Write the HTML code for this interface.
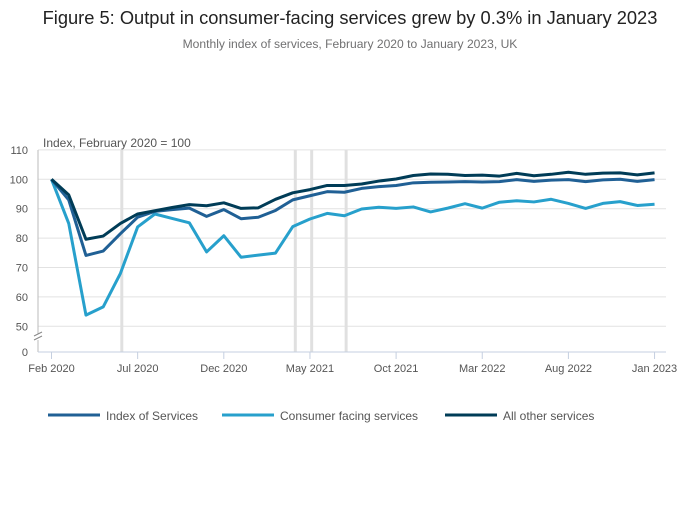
<!DOCTYPE html>
<html><head><meta charset="utf-8"><style>
body{margin:0;background:#fff;font-family:"Liberation Sans",sans-serif;}
svg text{font-family:"Liberation Sans",sans-serif;}
</style></head><body>
<svg id="c" width="700" height="502">
<text x="350" y="24" text-anchor="middle" font-size="18.3" fill="#222">Figure 5: Output in consumer-facing services grew by 0.3% in January 2023</text>
<text x="350" y="48" text-anchor="middle" font-size="12.1" fill="#707071">Monthly index of services, February 2020 to January 2023, UK</text>
<text x="43" y="147" font-size="12" fill="#555">Index, February 2020 = 100</text>
<g id="grid"></g><g id="marks"></g><g id="axes"></g>
</svg>
<script>
const months=["Feb 2020","Mar 2020","Apr 2020","May 2020","Jun 2020","Jul 2020","Aug 2020","Sep 2020","Oct 2020","Nov 2020","Dec 2020","Jan 2021","Feb 2021","Mar 2021","Apr 2021","May 2021","Jun 2021","Jul 2021","Aug 2021","Sep 2021","Oct 2021","Nov 2021","Dec 2021","Jan 2022","Feb 2022","Mar 2022","Apr 2022","May 2022","Jun 2022","Jul 2022","Aug 2022","Sep 2022","Oct 2022","Nov 2022","Dec 2022","Jan 2023"];
const indexOfServices=[100,93,74.1,75.6,81.5,87.1,89.1,89.7,90.2,87.4,89.7,86.6,87.1,89.4,93,94.4,95.8,95.6,96.9,97.5,97.9,98.8,99,99.1,99.2,99.1,99.2,99.9,99.3,99.7,99.9,99.2,99.8,100,99.3,99.9];
const consumerFacing=[100,85,53.8,56.6,68,83.8,88.2,86.7,85.2,75.3,80.8,73.5,74.2,74.9,83.9,86.5,88.4,87.6,89.9,90.5,90.1,90.6,88.9,90.2,91.7,90.2,92.2,92.7,92.3,93.2,91.8,90.1,91.8,92.4,91.1,91.5];
const allOther=[100,94.7,79.6,80.7,85,88.2,89.3,90.4,91.4,91,92,90.1,90.3,93.2,95.4,96.5,97.9,97.9,98.4,99.4,100.1,101.3,101.8,101.7,101.3,101.4,101.1,102,101.2,101.7,102.4,101.7,102.1,102.2,101.5,102.2];
const yTicks=[0,50,60,70,80,90,100,110];
const xTickMonths=["Feb 2020","Jul 2020","Dec 2020","May 2021","Oct 2021","Mar 2022","Aug 2022","Jan 2023"];
const markerMonths=[4.08,14.15,15.1,17.1];
const NS="http://www.w3.org/2000/svg";
const x=i=>51.5+i*17.23;
const y=v=>v>=50?326.3-(v-50)*2.94:352-v/50*26;
function el(t,a,p){const e=document.createElementNS(NS,t);for(const k in a)e.setAttribute(k,a[k]);document.getElementById(p).appendChild(e);return e;}
yTicks.forEach(t=>{
  if(t>0){const g=el('line',{x1:38,x2:666,y1:y(t),y2:y(t),stroke:'#e2e2e2','stroke-width':1},'grid');
  
  }
  const tx=el('text',{x:28,y:y(t)+4,'text-anchor':'end','font-size':11,fill:'#555'},'axes');tx.textContent=t;
  
  
});
markerMonths.forEach((m,i)=>{const r=el('rect',{x:x(m)-1.5,y:150,width:3,height:202,fill:'#e0e0e0'},'grid');
  
  });
const ya=el('line',{x1:38,x2:38,y1:150,y2:352,stroke:'#bbb'},'axes');


el('rect',{x:33,y:334,width:10,height:6,fill:'#fff'},'axes');
el('line',{x1:34,x2:42,y1:336,y2:332,stroke:'#888'},'axes');
el('line',{x1:34,x2:42,y1:340,y2:336,stroke:'#888'},'axes');
const xa=el('line',{x1:38,x2:666,y1:352,y2:352,stroke:'#c5cfe0'},'axes');


xTickMonths.forEach(m=>{const i=months.indexOf(m);
  el('line',{x1:x(i),x2:x(i),y1:352,y2:359,stroke:'#c5cfe0'},'axes');
  const t=el('text',{x:x(i),y:372,'text-anchor':'middle','font-size':11,fill:'#555'},'axes');t.textContent=m;
  
  });
function line(d,c,name){const p=el('polyline',{points:d.map((v,i)=>x(i)+','+y(v)).join(' '),fill:'none',stroke:c,'stroke-width':3,'stroke-linejoin':'round'},'marks');
  
  }
line(consumerFacing,'#27a0cc','consumer-facing-line');
line(indexOfServices,'#206095','index-of-services-line');
line(allOther,'#003c57','all-other-services-line');
const leg=[["Index of Services",'#206095',48],["Consumer facing services",'#27a0cc',222],["All other services",'#003c57',445]];
leg.forEach(([n,c,lx])=>{
  const l=el('line',{x1:lx,x2:lx+52,y1:415,y2:415,stroke:c,'stroke-width':3},'axes');
  
  
  const t=el('text',{x:lx+58,y:420,'font-size':12,fill:'#555'},'axes');t.textContent=n;
  
  
});
</script>
</body></html>
